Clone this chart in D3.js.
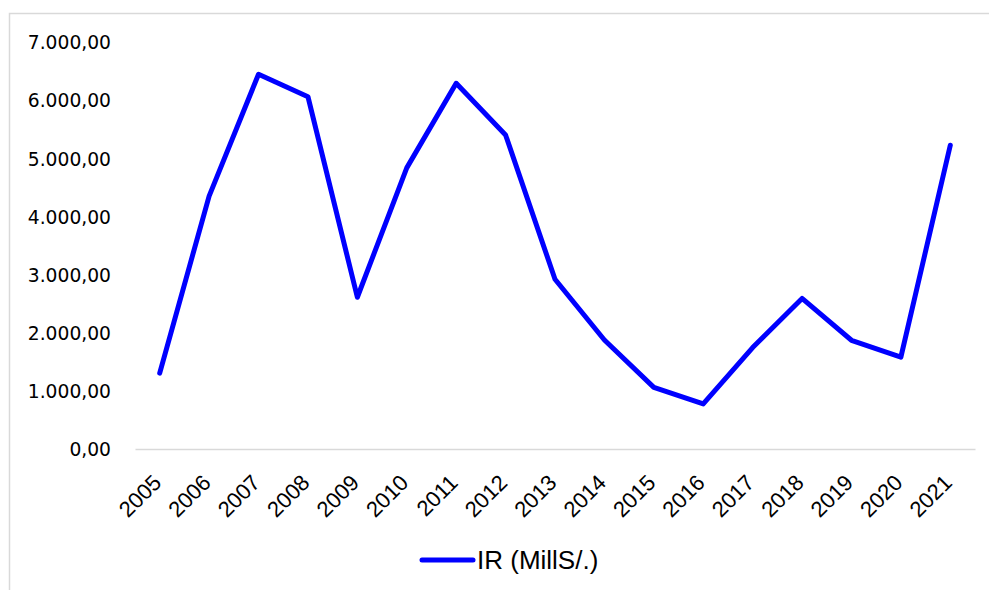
<!DOCTYPE html>
<html>
<head>
<meta charset="utf-8">
<script src="https://cdn.jsdelivr.net/npm/d3@7"></script>
<style>
  html, body { margin: 0; padding: 0; background: #fff; }
  svg { display: block; }
</style>
</head>
<body>
<div id="chart"></div>
<script>
const years = ['2005', '2006', '2007', '2008', '2009', '2010', '2011', '2012', '2013',
               '2014', '2015', '2016', '2017', '2018', '2019', '2020', '2021'];
const irValues = [1305, 4350, 6445, 6060, 2610, 4835, 6290, 5400, 2920,
                  1875, 1060, 775, 1745, 2590, 1870, 1580, 5225];
const yTicks = [0, 1000, 2000, 3000, 4000, 5000, 6000, 7000];
const seriesName = 'IR (MillS/.)';

const svgWidth = 989;
const svgHeight = 590;
const margin = {top: 42, right: 14, bottom: 141, left: 135};
const innerWidth = svgWidth - margin.left - margin.right;
const innerHeight = svgHeight - margin.top - margin.bottom;

const svg = d3.select('#chart').append('svg')
    .attr('width', svgWidth)
    .attr('height', svgHeight);

// chart area frame (runs off the right and bottom of the picture)
svg.append('rect')
    .attr('x', 9.5)
    .attr('y', 13.5)
    .attr('width', svgWidth + 20)
    .attr('height', svgHeight + 20)
    .attr('fill', 'none')
    .attr('stroke', '#d9d9d9')
    .attr('stroke-width', 1.5);

const g = svg.append('g')
    .attr('transform', `translate(${margin.left}, ${margin.top})`);

const xScale = d3.scaleBand()
    .domain(years)
    .range([0, innerWidth]);

const yScale = d3.scaleLinear()
    .domain([0, 7000])
    .range([innerHeight, 0]);

const locale = d3.formatLocale({decimal: ',', thousands: '.', grouping: [3], currency: ['', '']});
const fmt = locale.format(',.2f');

const yAxis = d3.axisLeft(yScale)
    .tickValues(yTicks)
    .tickFormat(fmt)
    .tickSize(0)
    .tickPadding(24);

const yAxisGroup = g.append('g').attr('id', 'y-axis').call(yAxis);
yAxisGroup.select('.domain').remove();
yAxisGroup.selectAll('text')
    .attr('font-family', '"DejaVu Sans", sans-serif')
    .attr('font-size', '18.7px')
    .attr('fill', '#000')
    .attr('dy', '0.36em');

const xAxis = d3.axisBottom(xScale).tickSize(0).tickSizeOuter(0);
const xAxisGroup = g.append('g')
    .attr('id', 'x-axis')
    .attr('transform', `translate(0, ${innerHeight})`)
    .call(xAxis);
xAxisGroup.select('.domain')
    .attr('stroke', '#d9d9d9')
    .attr('stroke-width', 1.5);
xAxisGroup.selectAll('text')
    .attr('font-family', '"Liberation Sans", Arial, sans-serif')
    .attr('font-size', '22px')
    .attr('fill', '#000')
    .attr('text-anchor', 'end')
    .attr('x', 0)
    .attr('y', 0)
    .attr('dy', 0)
    .attr('transform', 'translate(3, 35) rotate(-45)');

const line = d3.line()
    .x(function(d, i) { return xScale(years[i]) + xScale.bandwidth() / 2; })
    .y(function(d) { return yScale(d); });

g.append('path')
    .datum(irValues)
    .attr('fill', 'none')
    .attr('stroke', '#0000ff')
    .attr('stroke-width', 5)
    .attr('stroke-linejoin', 'round')
    .attr('stroke-linecap', 'round')
    .attr('d', line);

// legend
const legend = svg.append('g').attr('transform', 'translate(420, 560)');
legend.append('line')
    .attr('x1', 2).attr('x2', 53)
    .attr('y1', 0).attr('y2', 0)
    .attr('stroke', '#0000ff')
    .attr('stroke-width', 5)
    .attr('stroke-linecap', 'round');
legend.append('text')
    .attr('x', 57)
    .attr('y', 0)
    .attr('dy', '0.36em')
    .attr('font-family', '"Liberation Sans", Arial, sans-serif')
    .attr('font-size', '26px')
    .attr('fill', '#000')
    .text(seriesName);
</script>
</body>
</html>
